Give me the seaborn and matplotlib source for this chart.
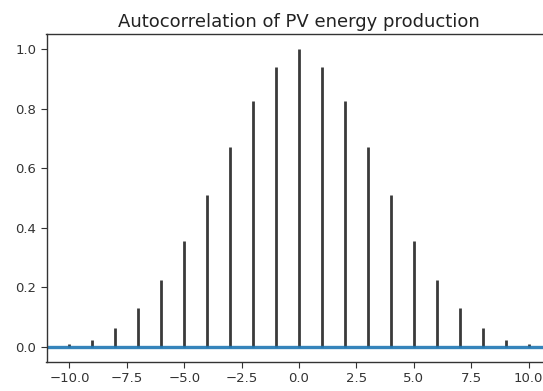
import numpy as np
import pandas as pd
import seaborn as sns
import matplotlib
matplotlib.use("Agg")
import matplotlib.pyplot as plt

lags = list(range(-10, 11))
half = [1.0, 0.941, 0.826, 0.672, 0.51, 0.357, 0.226, 0.13, 0.065, 0.024, 0.012]
acf = half[::-1] + half[1:]
title = "Autocorrelation of PV energy production"

sns.set_style("ticks")
plt.rcParams['font.family'] = ['DejaVu Sans']

df = pd.DataFrame({"lag": lags, "acf": acf})

fig = plt.figure(figsize=(5.43, 3.91), dpi=100)
ax = fig.add_axes([46.5/543, 29/391, 505/543, 328/391])

ax.vlines(df["lag"], 0, df["acf"], colors="#3a3a3a", linewidth=2)
ax.axhline(0, color="#1f77b4", linewidth=2.4, alpha=0.9)

ax.set_xlim(-11, 11)
ax.set_ylim(-0.05, 1.05)
ax.set_xticks([-10, -7.5, -5, -2.5, 0, 2.5, 5, 7.5, 10])
ax.set_xticklabels(["\u221210.0", "\u22127.5", "\u22125.0", "\u22122.5", "0.0", "2.5", "5.0", "7.5", "10.0"])
ax.set_yticks([0, 0.2, 0.4, 0.6, 0.8, 1.0])
ax.set_yticklabels(["0.0", "0.2", "0.4", "0.6", "0.8", "1.0"])
ax.tick_params(labelsize=9.5, colors="#333333", length=4)
for s in ax.spines.values():
    s.set_color("#333333")
    s.set_linewidth(1)
ax.set_title(title, fontsize=13, color="#222222", pad=5)
ax.set_xlabel("")
ax.set_ylabel("")

fig.savefig("out.png", dpi=100)
